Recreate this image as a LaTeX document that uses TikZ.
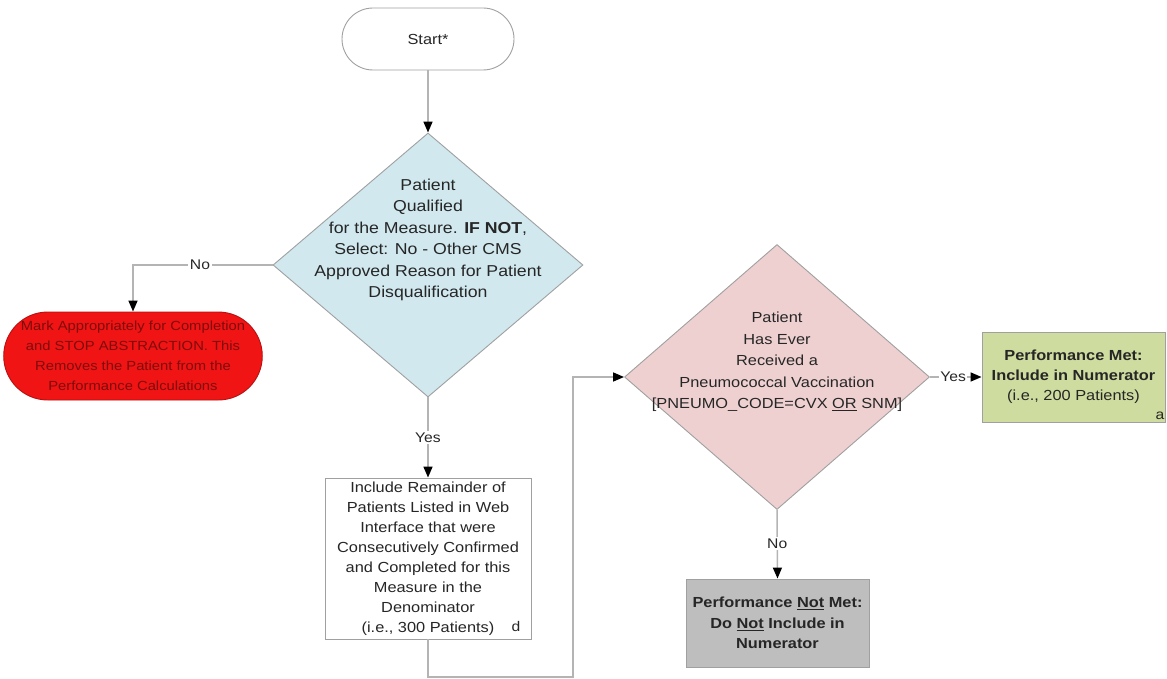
\documentclass[tikz,border=0pt]{standalone}
\usepackage{fontspec}
\setmainfont{Liberation Sans}[FakeStretch=1.12]
\usetikzlibrary{shapes.geometric,shapes.misc,arrows.meta,calc}

\definecolor{txtc}{HTML}{262626}
\definecolor{linec}{HTML}{B4B4B4}
\definecolor{bordc}{HTML}{A0A0A0}
\definecolor{bluec}{HTML}{D0E8EE}
\definecolor{pinkc}{HTML}{EFD0D0}
\definecolor{greenc}{HTML}{CEDC9F}
\definecolor{greyc}{HTML}{BEBEBE}
\definecolor{redc}{HTML}{F01414}
\definecolor{redbord}{HTML}{B81010}
\definecolor{redtxt}{HTML}{7E0C0C}

\begin{document}
\begin{tikzpicture}[x=1pt,y=-1pt,
  every node/.style={text=txtc, align=center},
  fnt/.style={font=\fontsize{14.6}{20}\selectfont},
  dfnt/.style={font=\fontsize{15.8}{21.5}\selectfont},
  conn/.style={draw=linec, line width=1.5pt},
  arr/.style={conn, -{Triangle[length=11pt,width=9pt,color=black]}},
  lbl/.style={fill=white, inner sep=1.5pt, font=\fontsize{14}{16}\selectfont},
  terminal/.style={rounded rectangle, draw=bordc, line width=0.9pt, inner sep=0pt},
  decision/.style={diamond, draw=bordc, line width=0.9pt, inner sep=0pt},
  process/.style={rectangle, draw=bordc, line width=0.9pt, inner sep=0pt},
  corner/.style={font=\fontsize{14}{16}\selectfont, inner sep=0pt}
]
\useasboundingbox (0,0) rectangle (1167,679);

% start terminal
\node[terminal, fill=white, minimum width=172pt, minimum height=62pt, fnt] (start) at (428,39) {Start*};

% first decision: patient qualification
\node[decision, fill=bluec, minimum width=310pt, minimum height=264pt] (q1) at (428,265) {};
\node[dfnt] (q1t) at (428,240) {Patient\\Qualified\\for the Measure. \textbf{IF NOT},\\Select: No - Other CMS\\Approved Reason for Patient\\Disqualification};

% stop terminal
\node[terminal, fill=redc, draw=redbord, minimum width=251pt, minimum height=88pt,
      text=redtxt, font=\fontsize{13.2}{20}\selectfont] (stop) at (133,356)
  {Mark Appropriately for Completion\\and STOP ABSTRACTION. This\\Removes the Patient from the\\Performance Calculations};

% denominator box
\node[process, fill=white, minimum width=206pt, minimum height=161pt, fnt] (denom) at (428,558.5)
  {Include Remainder of\\Patients Listed in Web\\Interface that were\\Consecutively Confirmed\\and Completed for this\\Measure in the\\Denominator\\(i.e., 300 Patients)};
\node[corner, anchor=south east] (dmark) at ($(denom.south east)+(-11,-8)$) {d};

% second decision: vaccination
\node[decision, fill=pinkc, minimum width=305pt, minimum height=265pt] (q2) at (777,377) {};
\node[fnt, font=\fontsize{14.6}{21.5}\selectfont] (q2t) at (777,362)
  {Patient\\Has Ever\\Received a\\Pneumococcal Vaccination\\{[PNEUMO\_CODE=CVX \underline{OR} SNM]}};

% outcomes
\node[process, fill=greenc, minimum width=183pt, minimum height=90pt, fnt] (met) at (1073.5,377)
  {\textbf{Performance Met:}\\\textbf{Include in Numerator}\\(i.e., 200 Patients)};
\node[corner, anchor=south east] (amark) at ($(met.south east)+(-1,-3)$) {a};

\node[process, fill=greyc, minimum width=183pt, minimum height=88pt, fnt, font=\bfseries\fontsize{14.6}{20.5}\selectfont] (notmet) at (777.5,623)
  {Performance \underline{Not} Met:\\Do \underline{Not} Include in\\Numerator};

% connectors
\coordinate (loopa) at (573,677);

\draw[arr] (start.south) -- (q1.north);
\draw[arr] (q1.west) -| node[lbl, pos=0.26] {No} (stop.north);
\draw[arr] (q1.south) -- node[lbl, pos=0.5] {Yes} (denom.north);
\draw[arr] (denom.south) |- (loopa) |- (q2.west);
\draw[arr] (q2.east) -- node[lbl, pos=0.45] {Yes} (met.west);
\draw[arr] (q2.south) -- node[lbl, pos=0.49] {No} (notmet.north);
\end{tikzpicture}
\end{document}
